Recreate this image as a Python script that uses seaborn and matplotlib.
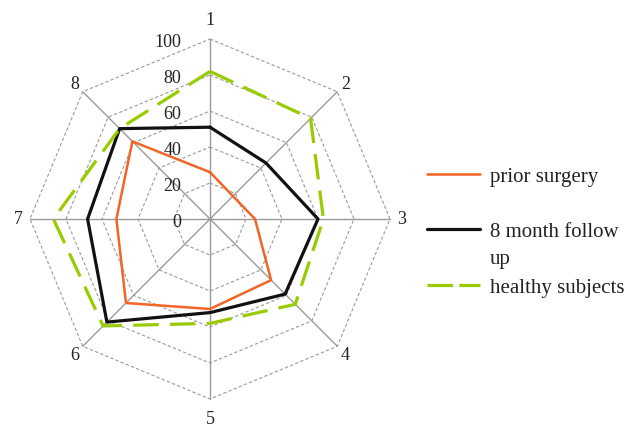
import numpy as np
import pandas as pd
import matplotlib
matplotlib.use("Agg")
import matplotlib.pyplot as plt
import seaborn as sns
from matplotlib.lines import Line2D

# Radar data: eight scored items, scale 0-100
axis_labels = ["1", "2", "3", "4", "5", "6", "7", "8"]
prior_surgery = [26, 18, 25, 48, 50, 66, 52, 61]
follow_up_8m = [51, 44, 60, 59, 52, 81, 68, 71]
healthy_subjects = [82, 79, 63, 67, 58, 84, 87, 71]
ring_values = [0, 20, 40, 60, 80, 100]
series_names = ["prior surgery", "8 month follow\nup", "healthy subjects"]

ORANGE = "#F26524"
BLACK = "#111111"
GREEN = "#99CC00"
GRID = "#9a9a9a"
TEXT = "#222222"

sns.set_style("white")
plt.rcParams["font.family"] = ["Liberation Serif", "DejaVu Serif"]
plt.rcParams["font.size"] = 13

n = len(axis_labels)
theta = np.arange(n) * 2 * np.pi / n  # clockwise from top


def to_xy(values):
    v = np.asarray(values, dtype=float)
    return v * np.sin(theta), v * np.cos(theta)


frames = []
for name, vals in zip(series_names, [prior_surgery, follow_up_8m, healthy_subjects]):
    x, y = to_xy(vals)
    idx = list(range(n)) + [0]
    frames.append(pd.DataFrame({"x": x[idx], "y": y[idx], "series": name,
                                "order": np.arange(n + 1)}))
df = pd.concat(frames, ignore_index=True)

W, H, DPI = 633, 427, 100
fig = plt.figure(figsize=(W / DPI, H / DPI), dpi=DPI)
ax = fig.add_axes([0, 0, 1, 1])
scale = 1.8  # pixels per unit
cx, cy = 210, 207  # centre in pixels from bottom-left

# polygonal grid rings
for r in ring_values[1:]:
    gx, gy = to_xy([r] * n)
    ax.plot(np.append(gx, gx[0]), np.append(gy, gy[0]), color=GRID, lw=0.8,
            ls=(0, (3, 2)), zorder=1)
# spokes
sx, sy = to_xy([100] * n)
for i in range(n):
    ax.plot([0, sx[i]], [0, sy[i]], color=GRID, lw=1.0, zorder=1)

styles = {
    series_names[0]: dict(color=ORANGE, lw=1.8),
    series_names[1]: dict(color=BLACK, lw=2.3),
    series_names[2]: dict(color=GREEN, lw=2.3, dashes=(8, 3.5)),
}
for name in series_names:
    sub = df[df["series"] == name]
    st = styles[name]
    sns.lineplot(data=sub, x="x", y="y", sort=False, estimator=None, ax=ax,
                 legend=False, color=st["color"], lw=st["lw"], zorder=3)
    if "dashes" in st:
        ax.lines[-1].set_dashes(st["dashes"])
ax.set_xlim(-cx / scale, (W - cx) / scale)
ax.set_ylim(-cy / scale, (H - cy) / scale)
ax.axis("off")

# radial value labels
for r in ring_values:
    ax.text(-16.0, r - 1.2, str(r), ha="right", va="center", color=TEXT)

# category labels
for i, lab in enumerate(axis_labels):
    rr = 111 if i in (0, 4) else 106.5
    ax.text(rr * np.sin(theta[i]), rr * np.cos(theta[i]), lab,
            ha="center", va="center", color=TEXT)

# legend: swatch beside the first line of each label
legend_rows = [175, 230, 286]  # pixel rows from the top
for name, row in zip(series_names, legend_rows):
    st = styles[name]
    yf = 1 - row / H
    sw = Line2D([427 / W, 480 / W], [yf, yf], transform=fig.transFigure,
                color=st["color"], lw=st["lw"])
    if "dashes" in st:
        sw.set_dashes((8, 2))
    fig.add_artist(sw)
    lines = name.split("\n")
    for k, part in enumerate(lines):
        fig.text(490 / W, 1 - (row + 27 * k) / H, part, ha="left",
                 va="center_baseline", fontsize=15, color=TEXT)

fig.savefig("out.png", dpi=DPI)
